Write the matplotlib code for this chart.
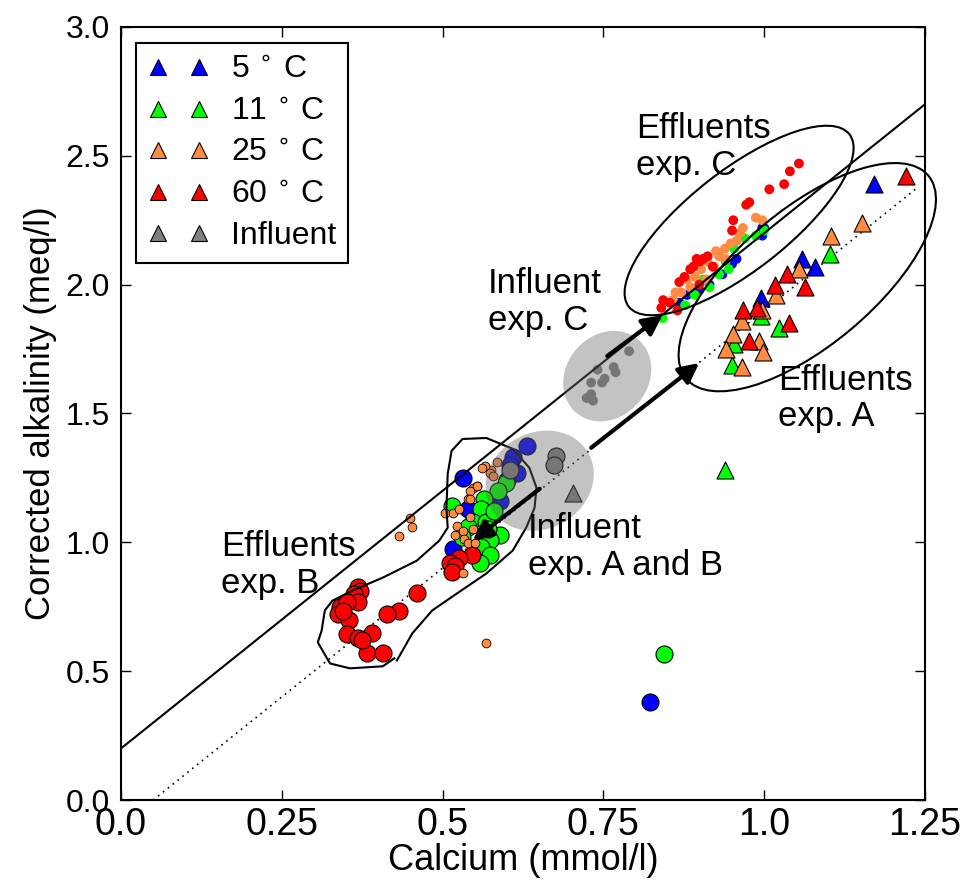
import numpy as np
import matplotlib
matplotlib.use('Agg')
import matplotlib.pyplot as plt
from matplotlib.lines import Line2D
from matplotlib.patches import Ellipse
from matplotlib import transforms

plt.rcParams['font.family'] = ['Liberation Sans', 'DejaVu Sans']

# colours per temperature
c5, c11, c25, c60, cinf = '#0000ff', '#00ff00', '#ff8c42', '#ff0000', '#808080'

# effluents exp. A (triangles)
effA_5 = [(1.171, 2.39), (1.059, 2.10), (1.079, 2.07), (0.995, 1.95)]
effA_11 = [(1.102, 2.12), (0.995, 1.88), (1.023, 1.83), (0.953, 1.77), (0.950, 1.69), (0.939, 1.28)]
effA_25 = [(1.152, 2.24), (1.104, 2.19), (1.054, 2.06), (1.019, 1.96), (0.997, 1.90), (0.966, 1.86),
           (0.952, 1.81), (0.941, 1.75), (0.992, 1.78), (0.998, 1.74), (0.966, 1.68)]
effA_60 = [(1.22, 2.42), (1.036, 2.04), (1.017, 2.00), (1.064, 1.99), (0.989, 1.91), (0.967, 1.90),
           (1.039, 1.85), (0.977, 1.78)]

# effluents exp. C (small dots)
effC_60 = [(1.054, 2.47), (1.040, 2.44), (1.031, 2.39), (1.008, 2.37), (0.977, 2.32), (0.972, 2.31),
           (0.952, 2.25), (0.950, 2.21), (0.900, 2.09), (0.890, 2.07), (0.905, 2.10), (0.876, 2.03),
           (0.899, 2.00), (0.843, 1.94), (0.840, 1.91), (0.865, 1.90), (0.920, 2.07), (0.895, 2.10),
           (0.885, 2.06), (0.868, 2.01), (0.912, 2.11), (0.853, 1.93)]
effC_25 = [(0.997, 2.25), (0.987, 2.26), (0.967, 2.22), (0.962, 2.20), (0.957, 2.17), (0.939, 2.14),
           (0.930, 2.12), (0.912, 2.09), (0.922, 2.07), (0.940, 2.10), (0.893, 2.03), (0.910, 2.02),
           (0.871, 1.97), (0.885, 1.99), (0.858, 1.94), (0.930, 2.11), (0.948, 2.16), (0.902, 2.06),
           (0.880, 2.02), (0.925, 2.13), (0.862, 1.97)]
effC_11 = [(0.987, 2.19), (0.970, 2.18), (0.953, 2.14), (0.940, 2.09), (0.930, 2.04), (0.945, 2.06),
           (0.905, 2.02), (0.877, 1.92), (0.842, 1.87), (0.915, 1.99), (1.000, 2.21), (0.892, 1.96)]
effC_5 = [(0.997, 2.22), (0.997, 2.19), (0.957, 2.10), (0.935, 2.04), (0.915, 2.00), (0.899, 1.98),
          (0.880, 1.96), (0.950, 2.08), (1.000, 2.22), (0.868, 1.93)]

# effluents exp. B (big circles + small orange)
effB_5 = [(0.632, 1.374), (0.609, 1.33), (0.605, 1.30), (0.615, 1.27), (0.531, 1.25), (0.539, 1.13),
          (0.516, 0.976), (0.589, 1.16), (0.600, 1.24), (0.823, 0.38)]
effB_11 = [(0.599, 1.23), (0.586, 1.20), (0.565, 1.17), (0.560, 1.13), (0.514, 1.14), (0.547, 1.08),
           (0.568, 1.08), (0.540, 1.06), (0.589, 1.03), (0.573, 1.01), (0.560, 0.98), (0.573, 0.95),
           (0.558, 0.92), (0.530, 1.02), (0.580, 1.12), (0.570, 1.05), (0.845, 0.565)]
effB_60 = [(0.545, 0.95), (0.526, 0.94), (0.511, 0.92), (0.520, 0.91), (0.514, 0.885), (0.461, 0.805),
           (0.433, 0.735), (0.413, 0.72), (0.368, 0.825), (0.372, 0.81), (0.362, 0.80), (0.368, 0.77),
           (0.340, 0.75), (0.352, 0.77), (0.337, 0.72), (0.354, 0.70), (0.352, 0.645), (0.368, 0.63),
           (0.390, 0.65), (0.382, 0.57), (0.407, 0.57), (0.375, 0.62), (0.345, 0.735)]
effB_25 = [(0.584, 1.31), (0.576, 1.28), (0.566, 1.295), (0.562, 1.289), (0.573, 1.27), (0.578, 1.258),
           (0.553, 1.22), (0.547, 1.212), (0.554, 1.22), (0.542, 1.20), (0.539, 1.169), (0.542, 1.17),
           (0.503, 1.115), (0.516, 1.115), (0.526, 1.13), (0.542, 1.10), (0.522, 1.065), (0.531, 1.045),
           (0.547, 1.053), (0.520, 1.03), (0.534, 1.014), (0.539, 0.999), (0.550, 0.997), (0.531, 0.88),
           (0.449, 1.096), (0.453, 1.06), (0.433, 1.026), (0.567, 0.61)]

# influents
infAB = [(0.605, 1.28), (0.677, 1.335), (0.674, 1.30)]
infAB_tri = [(0.702, 1.19)]
infC = [(0.790, 1.742), (0.766, 1.68), (0.769, 1.66), (0.741, 1.67), (0.748, 1.62), (0.752, 1.635),
        (0.731, 1.62), (0.724, 1.56), (0.734, 1.55), (0.731, 1.575)]

# outline around effluents exp. B
blobB = [(0.425, 0.550), (0.407, 0.519), (0.356, 0.511), (0.325, 0.530), (0.306, 0.612), (0.312, 0.658),
         (0.317, 0.736), (0.329, 0.774), (0.360, 0.813), (0.407, 0.863), (0.460, 0.929), (0.495, 1.007),
         (0.508, 1.057), (0.506, 1.134), (0.508, 1.266), (0.514, 1.355), (0.531, 1.401), (0.568, 1.405),
         (0.609, 1.363), (0.635, 1.289), (0.646, 1.212), (0.643, 1.134), (0.630, 1.057), (0.609, 0.968),
         (0.568, 0.879), (0.522, 0.801), (0.484, 0.736), (0.453, 0.647), (0.438, 0.581), (0.429, 0.542)]

xticks = [0, 0.25, 0.5, 0.75, 1.0, 1.25]
xticklabels = ['0.0', '0.25', '0.5', '0.75', '1.0', '1.25']
yticks = [0, 0.5, 1.0, 1.5, 2.0, 2.5, 3.0]
yticklabels = ['0.0', '0.5', '1.0', '1.5', '2.0', '2.5', '3.0']

fig = plt.figure(figsize=(9.7, 8.81), dpi=100)
ax = fig.add_axes([0.1247, 0.0919, 0.8289, 0.8775])


def xy(pts):
    a = np.array(pts)
    return a[:, 0], a[:, 1]


# reference lines
xl = np.array([0, 1.25])
ax.plot(xl, 2 * xl + 0.2, 'k-', lw=1.5, zorder=3)
xd = np.array([0.05, 1.24])
ax.plot(xd, 2 * (xd - 0.05), color='k', lw=1.2, ls=(0, (1, 2.75)), zorder=1)

# exp C dots
for pts, c in [(effC_5, c5), (effC_11, c11), (effC_25, c25), (effC_60, c60)]:
    ax.scatter(*xy(pts), s=50, c=c, edgecolors='none', zorder=2)
ax.scatter(*xy(infC), s=50, c=cinf, edgecolors='none', zorder=2)

# exp B
ax.scatter(*xy(effB_5), s=150, c=c5, edgecolors='k', linewidths=0.8, zorder=2)
ax.scatter(*xy(effB_11), s=150, c=c11, edgecolors='k', linewidths=0.8, zorder=2)
ax.scatter(*xy(effB_60), s=150, c=c60, edgecolors='k', linewidths=0.8, zorder=2)
ax.scatter(*xy(effB_25), s=40, c=c25, edgecolors='k', linewidths=0.6, zorder=2.2)
ax.scatter(*xy(infAB), s=150, c=cinf, edgecolors='k', linewidths=0.8, zorder=2)
ax.scatter(*xy(infAB_tri), s=150, c=cinf, marker='^', edgecolors='k', linewidths=0.8, zorder=2)

# exp A triangles
for pts, c in [(effA_5, c5), (effA_11, c11), (effA_25, c25), (effA_60, c60)]:
    ax.scatter(*xy(pts), s=150, c=c, marker='^', edgecolors='k', linewidths=0.8, zorder=2)


def ell(cx, cy, w, h, ang, **kw):
    # size in inches, centre in data units
    tr = fig.dpi_scale_trans + transforms.ScaledTranslation(cx, cy, ax.transData)
    e = Ellipse((0, 0), w, h, angle=ang, transform=tr, clip_on=False, **kw)
    ax.add_patch(e)


ell(0.961, 2.249, 2.80, 1.00, 38, fill=False, ec='k', lw=1.5, zorder=3)
ell(1.067, 2.029, 3.16, 1.36, 40, fill=False, ec='k', lw=1.5, zorder=3)
ell(0.756, 1.645, 0.96, 0.82, 50, fc='#696969', ec='none', alpha=0.4, zorder=4)
ell(0.651, 1.239, 1.12, 0.96, 30, fc='#696969', ec='none', alpha=0.4, zorder=4)

bx, by = xy(blobB)
ax.plot(bx, by, 'k-', lw=1.5, zorder=3)

# arrows
arr = dict(arrowstyle='-|>', lw=3, color='k', mutation_scale=30, shrinkA=0, shrinkB=0)
ax.annotate('', xy=(0.842, 1.882), xytext=(0.756, 1.723), arrowprops=arr, zorder=5)
ax.annotate('', xy=(0.899, 1.696), xytext=(0.731, 1.367), arrowprops=arr, zorder=5)
ax.annotate('', xy=(0.547, 1.007), xytext=(0.651, 1.208), arrowprops=arr, zorder=5)

tk = dict(fontsize=25, ha='left', va='top', linespacing=1.15, zorder=6)
ax.text(0.801, 2.67, 'Effluents\nexp. C', **tk)
ax.text(0.571, 2.07, 'Influent\nexp. C', **tk)
ax.text(1.021, 1.694, 'Effluents\nexp. A', **tk)
ax.text(0.633, 1.117, 'Influent\nexp. A and B', **tk)
ax.text(0.155, 1.047, 'Effluents\nexp. B', **tk)

# legend
temps = ['5', '11', '25', '60']
handles = [Line2D([], [], ls='none', marker='^', ms=12, mfc=c, mec='k', mew=0.8)
           for c in [c5, c11, c25, c60, cinf]]
labels = [t + r'$\,^\circ\,$C' for t in temps] + ['Influent']
leg = ax.legend(handles, labels, loc='upper left', bbox_to_anchor=(0.0186, 0.979), borderaxespad=0,
                numpoints=2, handlelength=1.9, handletextpad=0.7, labelspacing=0.36,
                fontsize=23, fancybox=False, framealpha=1, edgecolor='k', borderpad=0.38)
leg.get_frame().set_linewidth(1.5)
leg.set_zorder(7)

ax.set_xlim(0, 1.25)
ax.set_ylim(0, 3.0)
ax.set_xticks(xticks)
ax.set_xticklabels(xticklabels, fontsize=27)
ax.set_yticks(yticks)
ax.set_yticklabels(yticklabels, fontsize=23)
ax.tick_params(direction='in', length=7, width=1, top=True, right=True)
ax.tick_params(axis='x', pad=5)
ax.tick_params(axis='y', pad=8)
for s in ax.spines.values():
    s.set_linewidth(1.5)
ax.set_xlabel('Calcium (mmol/l)', fontsize=26, labelpad=0)
ax.set_ylabel('Corrected alkalinity (meq/l)', fontsize=25, labelpad=6)

fig.savefig('out.png', dpi=100)
